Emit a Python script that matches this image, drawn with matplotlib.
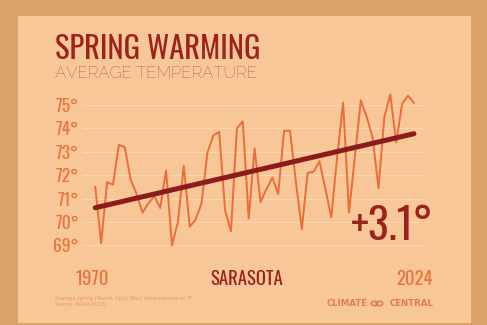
import matplotlib
matplotlib.use("Agg")
import matplotlib.pyplot as plt
import numpy as np
from matplotlib.patches import Rectangle, Circle

years = list(range(1970, 2025))
temps = [
    71.5, 69.1, 71.7, 71.6, 73.3, 73.2, 71.8, 71.2, 70.4, 70.8,
    71.1, 70.6, 72.2, 69.0, 70.0, 72.4, 69.8, 70.1, 70.8, 72.95,
    73.7, 73.85, 70.5, 69.6, 74.0, 74.3, 70.15, 73.15, 70.85, 71.4,
    71.9, 71.2, 73.9, 73.9, 71.7, 69.7, 72.1, 72.15, 72.6, 71.4,
    70.2, 72.8, 75.1, 70.4, 72.8, 75.2, 74.5, 73.6, 71.45, 74.5,
    75.45, 73.4, 75.05, 75.4, 75.1,
]
y_ticks = [69, 70, 71, 72, 73, 74, 75]
change_label = "+3.1°"

BG_OUT = "#dca06a"
BG_IN = "#f7c797"
DARK_RED = "#9c221d"
ORANGE = "#e8733f"
LINE = "#ec6c3a"
NARROW = ["Oswald", "Barlow Condensed", "DejaVu Sans"]
THIN = ["Raleway", "Lato", "DejaVu Sans"]

W, H = 487, 325
fig = plt.figure(figsize=(W / 100, H / 100), dpi=100)
fig.patch.set_facecolor(BG_OUT)
fig.add_artist(Rectangle((18 / W, 2 / H), 453 / W, 307 / H, transform=fig.transFigure,
                         facecolor=BG_IN, edgecolor="none", zorder=0))

ax = fig.add_axes([83 / W, 67.9 / H, 340 / W, 166.1 / H])
ax.set_facecolor("none")
ax.set_xlim(1967.92, 2025.54)
ax.set_ylim(68.5, 75.6)
for s in ax.spines.values():
    s.set_visible(False)
ax.set_xticks([])
ax.set_yticks(y_ticks)
ax.set_yticklabels([f"{t}°" for t in y_ticks], family=NARROW, fontsize=12.5,
                   color=ORANGE, fontweight="semibold")
ax.tick_params(axis="y", length=0, pad=3)
for t in y_ticks:
    ax.axhline(t, color="#fbd6ae", lw=0.8, zorder=1)

ax.plot(years, temps, color=LINE, lw=1.4, zorder=2)
slope, icpt = np.polyfit(years, temps, 1)
ax.plot([years[0], years[-1]], [slope * years[0] + icpt, slope * years[-1] + icpt],
        color="#8c1b1b", lw=3.6, solid_capstyle="round", zorder=3)

# Titles
fig.text(55 / W, 1 - 59 / H, "SPRING WARMING", family=NARROW, fontweight="bold",
         fontsize=22, color=DARK_RED, ha="left", va="baseline")
fig.text(55 / W, 1 - 78 / H, "AVERAGE TEMPERATURE", family=THIN, fontweight="normal",
         fontsize=12, color="#a8372a", ha="left", va="baseline")

fig.text(433 / W, 1 - 240 / H, change_label, family=NARROW, fontweight="bold",
         fontsize=31, color=DARK_RED, ha="right", va="baseline")

fig.text(75 / W, 1 - 285 / H, "1970", family=NARROW, fontweight="semibold", fontsize=13.5,
         color=ORANGE, ha="left", va="baseline")
fig.text(247 / W, 1 - 285 / H, "SARASOTA", family=NARROW, fontweight="bold", fontsize=13.5,
         color=DARK_RED, ha="center", va="baseline")
fig.text(433 / W, 1 - 285 / H, "2024", family=NARROW, fontweight="semibold", fontsize=13.5,
         color=ORANGE, ha="right", va="baseline")

fig.text(55 / W, 1 - 300 / H, "Average spring (March, April, May) temperatures in °F",
         fontsize=3.6, color="#e99668", ha="left", va="baseline")
fig.text(55 / W, 1 - 306 / H, "Source: NOAA (ACIS)", fontsize=3.6, color="#e99668",
         ha="left", va="baseline")

fig.text(327 / W, 1 - 306 / H, "CLIMATE", fontsize=6.2, color="#e07d55", fontweight="semibold",
         ha="left", va="baseline")
fig.text(433 / W, 1 - 306 / H, "CENTRAL", fontsize=6.2, color="#e07d55", fontweight="semibold",
         ha="right", va="baseline")
for cx in (374.5, 379.5):
    fig.add_artist(Circle((cx / W, 1 - 303.5 / H), 3.2 / W, transform=fig.transFigure,
                          facecolor="none", edgecolor="#e07d55", lw=1.2))

fig.savefig("out.png", dpi=100, facecolor=fig.get_facecolor())
